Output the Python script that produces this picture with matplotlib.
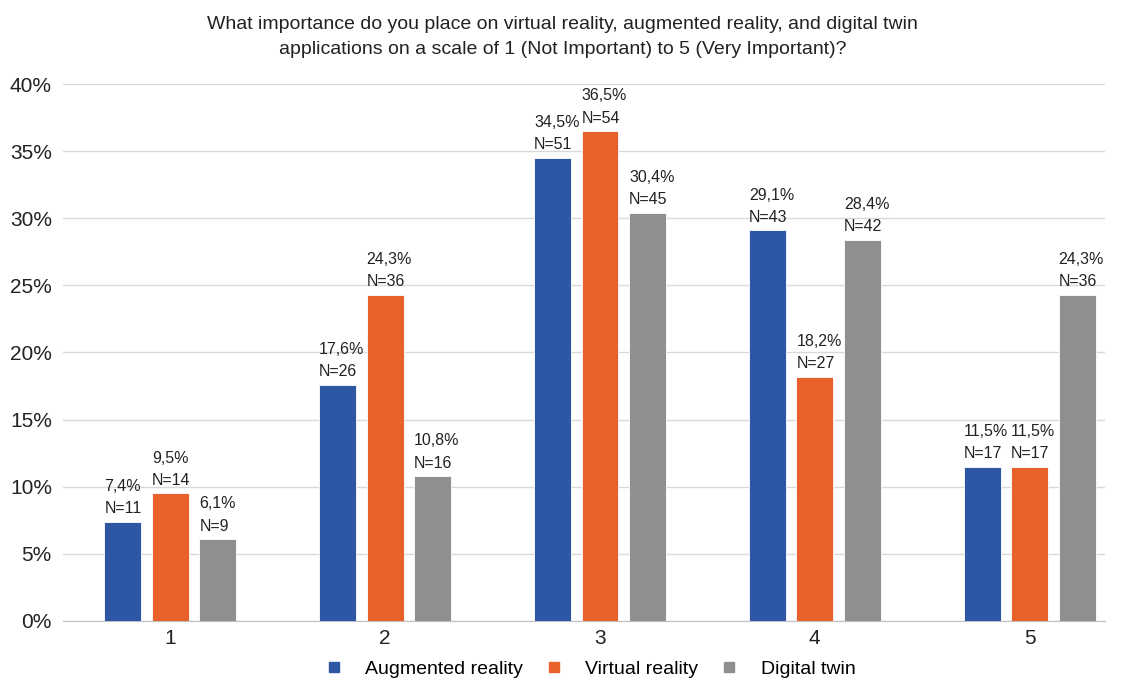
import numpy as np
import matplotlib
matplotlib.use("Agg")
import matplotlib.pyplot as plt
from matplotlib.lines import Line2D

plt.rcParams['font.family'] = ['Liberation Sans Narrow', 'Liberation Sans', 'DejaVu Sans']

categories = ["1", "2", "3", "4", "5"]
series_names = ["Augmented reality", "Virtual reality", "Digital twin"]
ar_pct = [7.4, 17.6, 34.5, 29.1, 11.5]
ar_n = [11, 26, 51, 43, 17]
vr_pct = [9.5, 24.3, 36.5, 18.2, 11.5]
vr_n = [14, 36, 54, 27, 17]
dt_pct = [6.1, 10.8, 30.4, 28.4, 24.3]
dt_n = [9, 16, 45, 42, 36]
colors = ["#2D56A5", "#E8602A", "#8F8F8F"]

title = ("What importance do you place on virtual reality, augmented reality, and digital twin\n"
         "applications on a scale of 1 (Not Important) to 5 (Very Important)?")

fig = plt.figure(figsize=(11.25, 6.83), dpi=100)
ax = fig.add_axes([0.056, 0.091, 0.926, 0.786])

x = np.arange(len(categories))
width = 0.172
offset = 0.221

for i, (pct, ns) in enumerate([(ar_pct, ar_n), (vr_pct, vr_n), (dt_pct, dt_n)]):
    xs = x + (i - 1) * offset
    ax.bar(xs, pct, width, color=colors[i], edgecolor="white", linewidth=0.6, zorder=3)
    for xi, p, n in zip(xs, pct, ns):
        ax.text(xi - width / 2, p + 0.4, f"{p:.1f}%".replace(".", ",") + f"\nN={n}",
                ha="left", va="bottom", fontsize=11.5, linespacing=1.6, color="#222222")

ax.set_ylim(0, 40)
ax.set_xlim(-0.5, 4.35)
ax.set_yticks(range(0, 41, 5))
ax.set_yticklabels([f"{v}%" for v in range(0, 41, 5)])
ax.set_xticks(x)
ax.set_xticklabels(categories)
ax.tick_params(axis="y", length=0, labelsize=15, pad=8, colors="#222222")
ax.tick_params(axis="x", length=0, labelsize=15, pad=6, colors="#222222")
ax.grid(axis="y", color="#D9D9D9", linewidth=1, zorder=0)
for s in ["top", "right", "left"]:
    ax.spines[s].set_visible(False)
ax.spines["bottom"].set_color("#BFBFBF")

fig.text(0.5, 0.946, title, ha="center", va="center", fontsize=14, linespacing=1.6, color="#222222")

handles = [Line2D([], [], marker="s", linestyle="", color=c, markersize=7) for c in colors]
fig.legend(handles, series_names, loc="center", bbox_to_anchor=(0.52, 0.02), ncol=3,
           frameon=False, fontsize=14, handletextpad=0.6, columnspacing=0.6)

fig.savefig("out.png", dpi=100)
